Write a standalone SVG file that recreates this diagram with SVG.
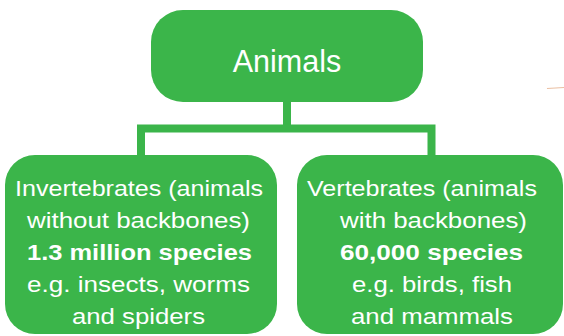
<svg xmlns="http://www.w3.org/2000/svg" width="564" height="336" viewBox="0 0 564 336">
  <style>
    .box { fill: #3bb54a; }
    .conn { fill: none; stroke: #3bb54a; stroke-width: 8; stroke-linejoin: miter; stroke-linecap: butt; }
    .t { fill: #ffffff; font-family: "Liberation Sans", Arial, sans-serif; font-size: 22.5px; }
    .b { font-weight: bold; }
    .title { fill: #ffffff; font-family: "Liberation Sans", Arial, sans-serif; font-size: 30.5px; }
  </style>
  <rect width="564" height="336" fill="#ffffff"/>
  <g id="connectors">
    <path class="conn" d="M287 100 V128.5"/>
    <path class="conn" d="M141 157 V128.5 H431.5 V157"/>
  </g>
  <g id="animals">
    <rect class="box" x="151" y="10" width="272" height="92" rx="32" ry="32"/>
    <text class="title" x="287" y="72" text-anchor="middle">Animals</text>
  </g>
  <g id="invertebrates">
    <rect class="box" x="5" y="155" width="272" height="179" rx="30" ry="30"/>
    <text class="t" x="15" y="196" textLength="248" lengthAdjust="spacingAndGlyphs">Invertebrates (animals</text>
    <text class="t" x="27" y="228" textLength="223" lengthAdjust="spacingAndGlyphs">without backbones)</text>
    <text class="t b" x="27" y="260" textLength="225" lengthAdjust="spacingAndGlyphs">1.3 million species</text>
    <text class="t" x="27" y="292" textLength="223" lengthAdjust="spacingAndGlyphs">e.g. insects, worms</text>
    <text class="t" x="72" y="324" textLength="133" lengthAdjust="spacingAndGlyphs">and spiders</text>
  </g>
  <g id="vertebrates">
    <rect class="box" x="297" y="155" width="266" height="179" rx="30" ry="30"/>
    <text class="t" x="307" y="196" textLength="230" lengthAdjust="spacingAndGlyphs">Vertebrates (animals</text>
    <text class="t" x="340" y="228" textLength="187" lengthAdjust="spacingAndGlyphs">with backbones)</text>
    <text class="t b" x="340" y="260" textLength="183" lengthAdjust="spacingAndGlyphs">60,000 species</text>
    <text class="t" x="352" y="292" textLength="160" lengthAdjust="spacingAndGlyphs">e.g. birds, fish</text>
    <text class="t" x="351" y="324" textLength="162" lengthAdjust="spacingAndGlyphs">and mammals</text>
  </g>
  <line x1="547" y1="88.5" x2="564" y2="87.5" stroke="#d98a55" stroke-width="1.2" stroke-opacity="0.55"/>
</svg>
